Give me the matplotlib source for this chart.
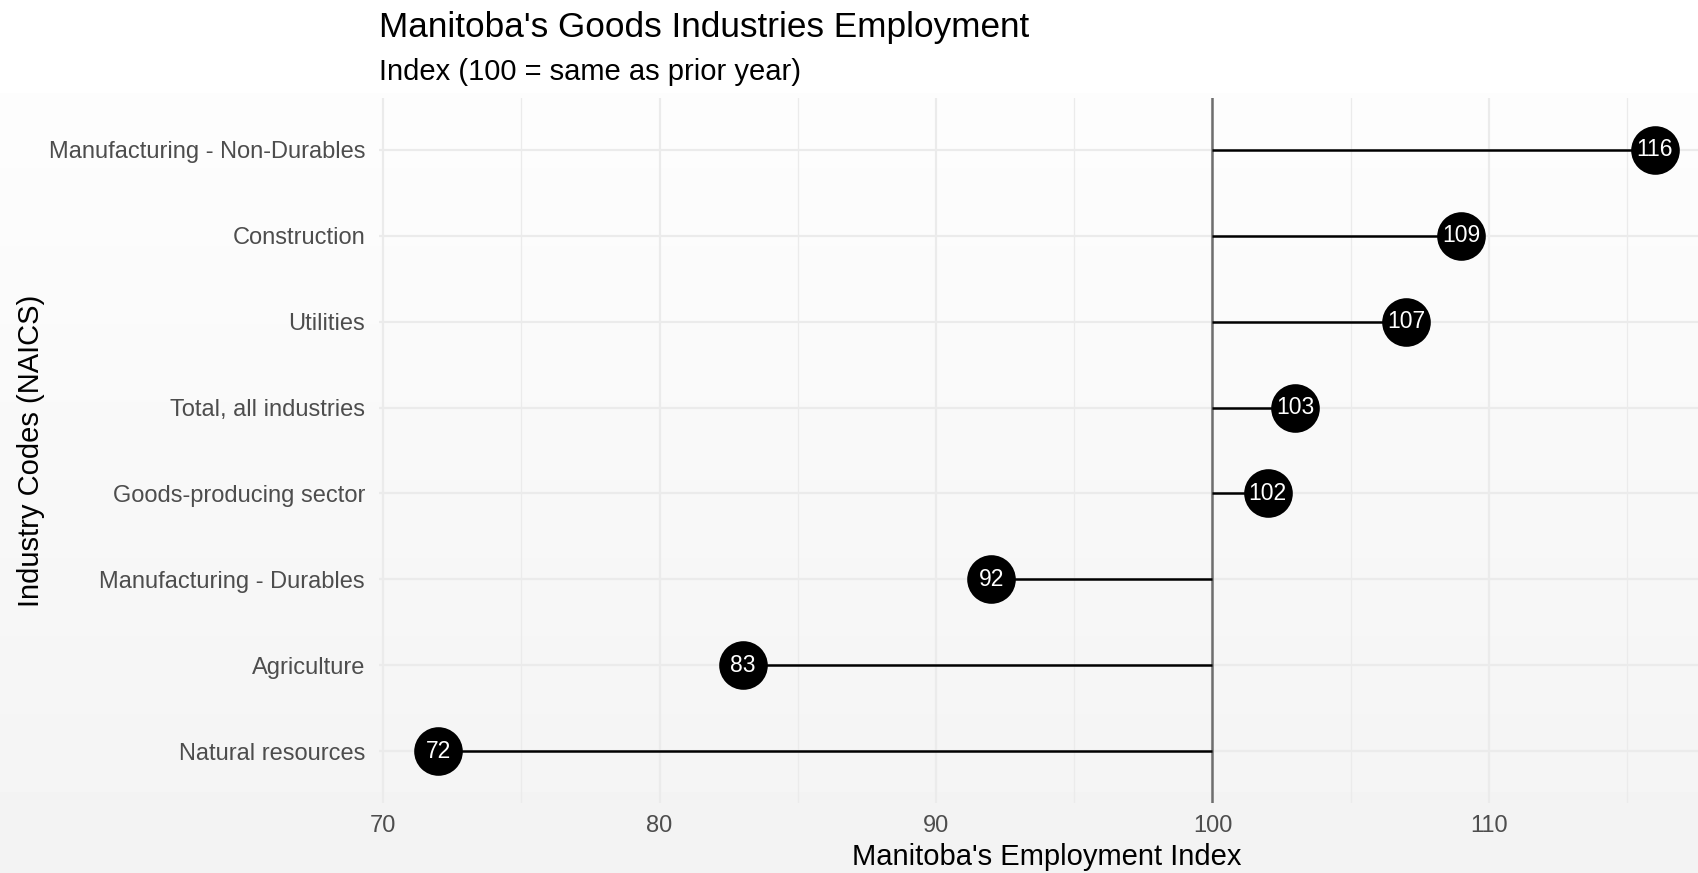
import numpy as np
import matplotlib.pyplot as plt

Industries = [
    "Natural resources",
    "Agriculture",
    "Manufacturing - Durables",
    "Goods-producing sector",
    "Total, all industries",
    "Utilities",
    "Construction",
    "Manufacturing - Non-Durables",
]
IndexValues = [72, 83, 92, 102, 103, 107, 109, 116]
Baseline = 100

plt.rcParams["font.family"] = ["Liberation Sans", "DejaVu Sans"]

Fig = plt.figure(figsize=(16.99, 8.73), dpi=100)

# background: white header, soft grey gradient below
BgAx = Fig.add_axes([0, 0, 1, 1], zorder=-10)
Rows = 873
Shade = np.ones(Rows)
Start = 93
Shade[Start:] = np.linspace(0.992, 0.953, Rows - Start)
BgAx.imshow(np.repeat(Shade[:, None], 4, axis=1), cmap="gray", vmin=0, vmax=1,
            aspect="auto", extent=[0, 1, 0, 1], origin="upper")
BgAx.set_axis_off()

Ax = Fig.add_axes([379 / 1699, 1 - 803 / 873, 1 - 379 / 1699, (803 - 98) / 873])
Ax.patch.set_alpha(0)

Y = np.arange(1, len(Industries) + 1)

Ax.hlines(Y, Baseline, IndexValues, color="black", linewidth=1.8, zorder=3)
Ax.axvline(Baseline, color="#6e6e6e", linewidth=1.8, zorder=2)
Ax.scatter(IndexValues, Y, s=35 ** 2, color="black", zorder=4, linewidths=0)
for Value, Pos in zip(IndexValues, Y):
    Ax.text(Value, Pos, str(Value), color="white", fontsize=16.5,
            ha="center", va="center", zorder=5)

Ax.set_xlim(69.85, 117.6)
Ax.set_ylim(0.4, 8.6)
Ax.set_xticks([70, 80, 90, 100, 110])
Ax.set_xticks([75, 85, 95, 105, 115], minor=True)
Ax.set_yticks(Y)
Ax.set_yticklabels(Industries)
Ax.grid(which="major", color="#ebebeb", linewidth=1.6, zorder=0)
Ax.grid(which="minor", axis="x", color="#ebebeb", linewidth=0.9, zorder=0)
Ax.set_axisbelow(True)
Ax.tick_params(axis="both", which="both", length=0, labelsize=17,
               labelcolor="#4d4d4d", pad=10)
Ax.tick_params(axis="x", pad=9)
for Spine in Ax.spines.values():
    Spine.set_visible(False)

Fig.text(1047 / 1699, 1 - 857 / 873, "Manitoba's Employment Index",
         fontsize=21, ha="center", va="center")
Fig.text(31 / 1699, 1 - 451 / 873, "Industry Codes (NAICS)", rotation=90,
         fontsize=21, ha="center", va="center")

Fig.text(379 / 1699, 1 - 27 / 873, "Manitoba's Goods Industries Employment",
         fontsize=25.3, ha="left", va="center")
Fig.text(379 / 1699, 1 - 72 / 873, "Index (100 = same as prior year)",
         fontsize=21, ha="left", va="center")

Fig.savefig("out.png", dpi=100)
